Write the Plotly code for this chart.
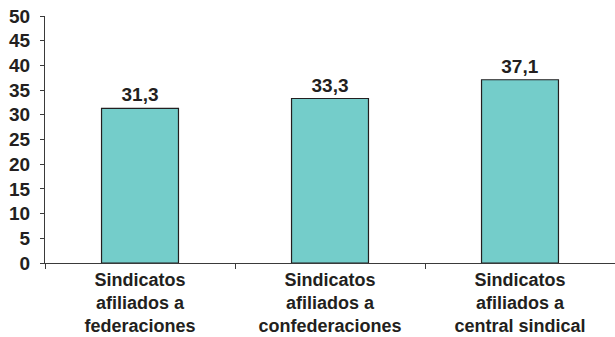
import plotly.graph_objects as go

categories = ["Sindicatos<br>afiliados a<br>federaciones",
              "Sindicatos<br>afiliados a<br>confederaciones",
              "Sindicatos<br>afiliados a<br>central sindical"]
values = [31.3, 33.3, 37.1]
y_ticks = [0, 5, 10, 15, 20, 25, 30, 35, 40, 45, 50]

FONT = "Liberation Sans, Arial, sans-serif"
TXT = "#231F20"
AX = "#3a3a3a"

fig = go.Figure(go.Bar(
    x=categories, y=values,
    marker=dict(color="#74CDCA", line=dict(color="#231F20", width=1.2)),
    width=0.405,
    texttemplate="%{y:.1f}", textposition="outside", cliponaxis=False,
    textfont=dict(family=FONT, size=19, color=TXT, weight="bold"),
))

fig.update_layout(
    width=615, height=337,
    margin=dict(l=45, r=0, t=16, b=74),
    paper_bgcolor="white", plot_bgcolor="white",
    separators=",.",
    showlegend=False,
    font=dict(family=FONT, size=18, color=TXT),
)
fig.update_xaxes(
    showline=True, linecolor=AX, linewidth=1,
    ticks="outside", tickson="boundaries", ticklen=5, tickcolor=AX,
    tickfont=dict(family=FONT, size=18, color=TXT, weight="bold"),
    showgrid=False, zeroline=False, range=[-0.5, 2.5], automargin=False,
)
fig.update_yaxes(
    range=[0, 50], tickvals=y_ticks, showline=True, linecolor=AX, linewidth=1,
    ticks="outside", ticklen=4, tickcolor=AX, ticklabelstandoff=6,
    tickfont=dict(family=FONT, size=19, color=TXT, weight="bold"),
    showgrid=False, zeroline=False, automargin=False,
)

fig.write_html(
    "out.html",
    config={"displayModeBar": False},
    post_script="document.body.style.margin='0';document.body.style.overflow='hidden';",
)
